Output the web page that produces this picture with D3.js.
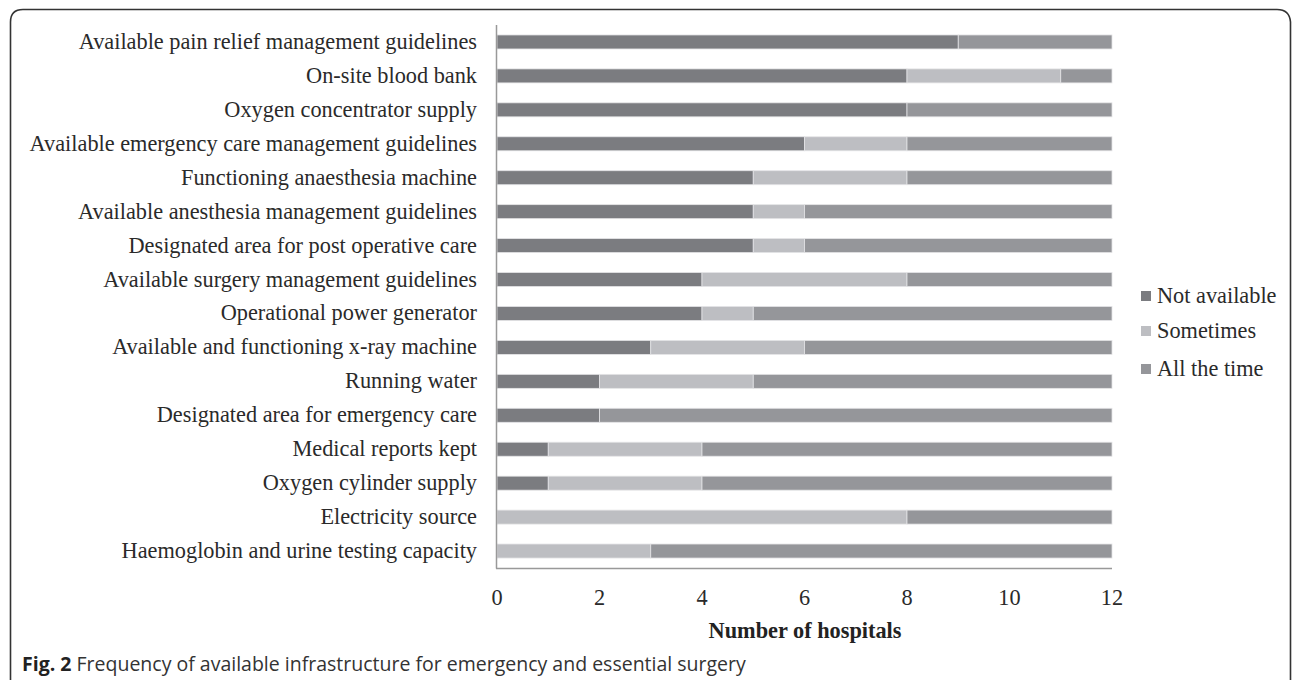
<!DOCTYPE html>
<html><head><meta charset="utf-8">
<script src="https://cdn.jsdelivr.net/npm/d3@7"></script>
<style>body{margin:0;background:#fff}svg{display:block}</style>
</head><body>
<svg id="c" width="1292" height="680"></svg>
<script>
const categories = [
 "Available pain relief management guidelines",
 "On-site blood bank",
 "Oxygen concentrator supply",
 "Available emergency care management guidelines",
 "Functioning anaesthesia machine",
 "Available anesthesia management guidelines",
 "Designated area for post operative care",
 "Available surgery management guidelines",
 "Operational power generator",
 "Available and functioning x-ray machine",
 "Running water",
 "Designated area for emergency care",
 "Medical reports kept",
 "Oxygen cylinder supply",
 "Electricity source",
 "Haemoglobin and urine testing capacity"
];
const notAvailable = [9,8,8,6,5,5,5,4,4,3,2,2,1,1,0,0];
const sometimes    = [0,3,0,2,3,1,1,4,1,3,3,0,3,3,8,3];
const allTheTime   = [3,1,4,4,4,6,6,4,7,6,7,10,8,8,4,9];
const seriesNames = ["Not available","Sometimes","All the time"];
const xTicks = [0,2,4,6,8,10,12];
const colors = ["#7b7c80","#bdbec2","#95969a"];

const svg = d3.select("#c");
// frame
svg.append("path")
  .attr("d","M10.5,690 L10.5,22 Q10.5,9.5 23,9.5 L1277,9.5 Q1289.5,9.5 1290.5,22 L1290.5,690")
  .attr("fill","none").attr("stroke","#333").attr("stroke-width",1.6);

const x = d3.scaleLinear().domain([0,12]).range([497,1112]);
const y = d3.scaleBand().domain(categories).range([25,568]);
const bh = 14;
const vals = [notAvailable, sometimes, allTheTime];
const stackData = categories.map((c,i)=>({cat:c, s0:vals[0][i], s1:vals[1][i], s2:vals[2][i]}));
const stack = d3.stack().keys(["s0","s1","s2"])(stackData);

stack.forEach((layer,k)=>{
  svg.append("g").selectAll("rect").data(layer).join("rect")
    .attr("x",d=>x(d[0])).attr("width",d=>x(d[1])-x(d[0]))
    .attr("y",d=>y(d.data.cat)+y.bandwidth()/2-bh/2).attr("height",bh)
    .attr("fill",colors[k]).attr("stroke","#e4e4e6").attr("stroke-width",0.8)
    .filter(d=>d[1]-d[0]===0).remove();
});

// axes lines
svg.append("line").attr("x1",496.5).attr("x2",496.5).attr("y1",25).attr("y2",568.5)
  .attr("stroke","#999").attr("stroke-width",1.5);
svg.append("line").attr("x1",496).attr("x2",1112).attr("y1",568.5).attr("y2",568.5)
  .attr("stroke","#999").attr("stroke-width",1.5);

const serif = "'Liberation Serif','Times New Roman',serif";
const fs = 22.3;
const tc = "#2a2a2a";
svg.append("g").selectAll("text").data(categories).join("text")
  .attr("x",477).attr("y",d=>y(d)+y.bandwidth()/2+7)
  .attr("text-anchor","end").attr("font-family",serif).attr("font-size",fs).attr("fill",tc)
  .text(d=>d);

svg.append("g").selectAll("text").data(xTicks).join("text")
  .attr("x",d=>x(d)).attr("y",605).attr("text-anchor","middle")
  .attr("font-family",serif).attr("font-size",fs).attr("fill",tc).text(d=>d);

svg.append("text").attr("x",805).attr("y",638).attr("text-anchor","middle")
  .attr("font-family",serif).attr("font-size",fs).attr("font-weight","bold").attr("fill","#222")
  .text("Number of hospitals");

// legend
const ly = [296,331,369];
const lg = svg.append("g");
seriesNames.forEach((n,i)=>{
  lg.append("rect").attr("x",1141).attr("y",ly[i]-5).attr("width",10).attr("height",10).attr("fill",colors[i]);
  lg.append("text").attr("x",1157).attr("y",ly[i]+7).attr("font-family",serif).attr("font-size",fs)
    .attr("fill",tc).text(n);
});

// caption
const cap = svg.append("text").attr("x",22).attr("y",671).attr("font-family","'Open Sans','Noto Sans',sans-serif")
  .attr("font-size",19.5).attr("fill","#333");
cap.append("tspan").attr("font-weight","bold").attr("fill","#222").text("Fig. 2");
cap.append("tspan").text(" Frequency of available infrastructure for emergency and essential surgery");
</script>
</body></html>
